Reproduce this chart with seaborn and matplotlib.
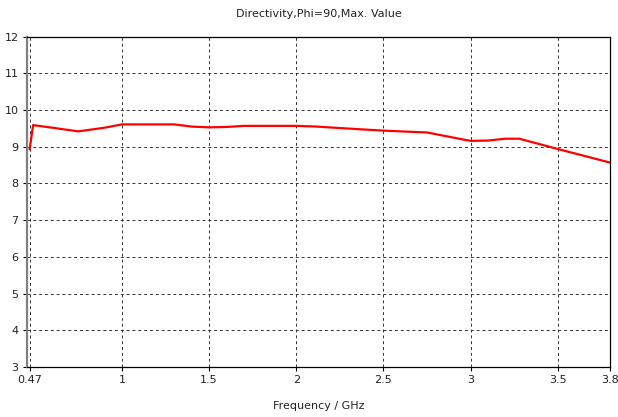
import matplotlib
matplotlib.use("Agg")
import pandas as pd
import seaborn as sns
from matplotlib import pyplot as plt

freq_ghz = [0.47, 0.49, 0.6, 0.75, 0.9, 1.0, 1.3, 1.4, 1.5, 1.6, 1.7, 2.0, 2.12,
            2.25, 2.5, 2.75, 3.0, 3.1, 3.2, 3.28, 3.5, 3.8]
directivity = [8.93, 9.59, 9.52, 9.42, 9.52, 9.61, 9.61, 9.55, 9.53, 9.54, 9.57, 9.57, 9.55,
               9.51, 9.44, 9.39, 9.16, 9.17, 9.22, 9.22, 8.94, 8.57]
x_ticks = [0.47, 1, 1.5, 2, 2.5, 3, 3.5, 3.8]
x_tick_labels = ["0.47", "1", "1.5", "2", "2.5", "3", "3.5", "3.8"]
y_ticks = [3, 4, 5, 6, 7, 8, 9, 10, 11, 12]

sns.set_style("ticks")
plt.rcParams["font.family"] = ["DejaVu Sans"]

df = pd.DataFrame({"freq": freq_ghz, "dir": directivity})

fig = plt.figure(figsize=(6.18, 4.17), dpi=100)
ax = fig.add_axes([0.0437, 0.12, 0.9433, 0.792])
sns.lineplot(data=df, x="freq", y="dir", ax=ax, color="#ff0000", linewidth=1.6)

ax.set_xlim(0.455, 3.8)
ax.set_ylim(3, 12)
ax.set_xticks(x_ticks)
ax.set_xticklabels(x_tick_labels)
ax.set_yticks(y_ticks)
ax.tick_params(axis="both", labelsize=8, length=3, width=0.8, direction="out",
               color="black", labelcolor="#222222", pad=3)
ax.grid(True, color="#333333", linestyle=(0, (3, 3)), linewidth=0.7)
for side in ["left", "right", "top", "bottom"]:
    ax.spines[side].set_visible(True)
    ax.spines[side].set_color("black")
    ax.spines[side].set_linewidth(0.9)
ax.spines["left"].set_color("#808080")
ax.spines["left"].set_linewidth(1.6)

ax.set_title("Directivity,Phi=90,Max. Value", fontsize=8, pad=14, color="#222222")
ax.set_xlabel("Frequency / GHz", fontsize=8, labelpad=11, color="#222222")
ax.set_ylabel("")

fig.savefig("out.png", dpi=100)
